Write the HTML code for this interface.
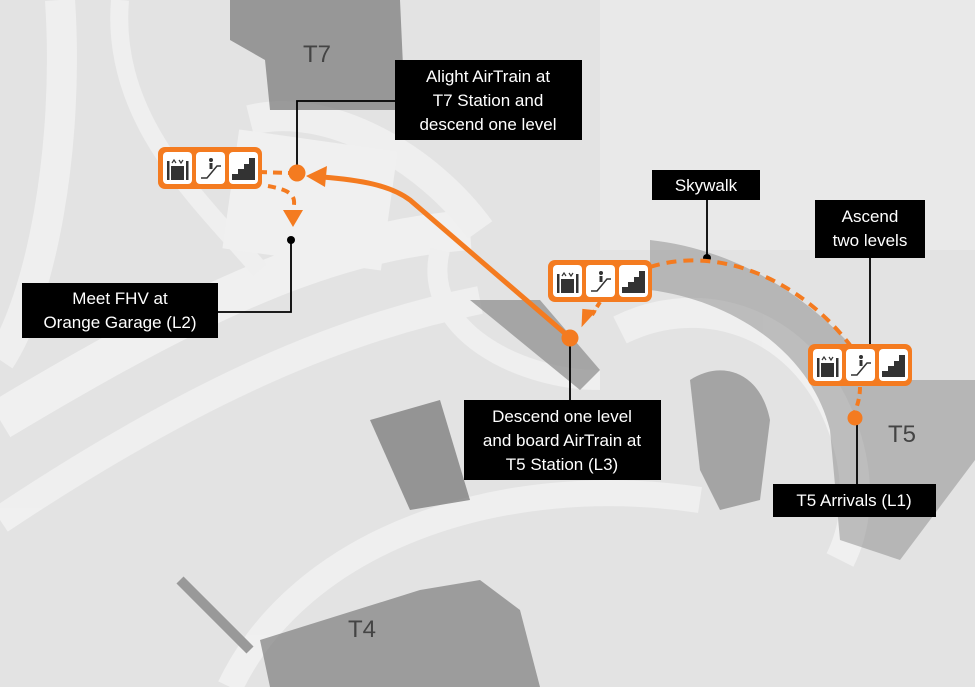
<!DOCTYPE html>
<html><head><meta charset="utf-8"><style>
html,body{margin:0;padding:0;width:975px;height:687px;overflow:hidden;background:#e2e2e2}
svg{display:block}
text{font-family:"Liberation Sans",sans-serif}
.lb{fill:#fff;font-size:17px;text-anchor:middle}
</style></head><body>
<svg width="975" height="687" viewBox="0 0 975 687" xmlns="http://www.w3.org/2000/svg">
<defs>
<g id="icons">
<rect x="0" y="0" width="104" height="42" rx="7" fill="#f47b20"/>
<rect x="5" y="5" width="29" height="32" rx="4" fill="#fff"/>
<rect x="38" y="5" width="29" height="32" rx="4" fill="#fff"/>
<rect x="71" y="5" width="29" height="32" rx="4" fill="#fff"/>
<g fill="#333"><rect x="9" y="14" width="2.5" height="19"/><rect x="28" y="14" width="2.5" height="19"/><rect x="13" y="19" width="13" height="14"/></g>
<path d="M14 16 l2 -3 l2 3 M21 13 l2 3 l2 -3" stroke="#333" stroke-width="1.2" fill="none"/>
<path d="M43 31 l6 0 l10 -12 l4 0" stroke="#333" stroke-width="1.5" fill="none"/>
<circle cx="53" cy="13" r="2" fill="#333"/><rect x="51.5" y="16" width="3" height="6" fill="#333"/>
<path d="M74 33 L74 27 L80 27 L80 22 L86 22 L86 17 L91 17 L91 11 L97 11 L97 33 Z" fill="#333"/>
</g>
</defs>
<rect width="975" height="687" fill="#e3e3e3"/>
<rect x="600" y="0" width="375" height="250" fill="#e9e9e9"/>
<g opacity="0.8">
<path d="M0 420 C200 300 330 240 470 230" stroke="#f4f4f4" stroke-width="40" fill="none"/>
<path d="M0 520 C180 400 330 330 480 300" stroke="#f2f2f2" stroke-width="28" fill="none"/>
<path d="M60 0 C70 150 40 300 0 360" stroke="#f3f3f3" stroke-width="30" fill="none"/>
<path d="M120 0 C110 120 200 200 260 270" stroke="#f2f2f2" stroke-width="18" fill="none"/>
<path d="M440 250 C420 330 520 380 600 380" stroke="#f2f2f2" stroke-width="20" fill="none"/>
<path d="M230 687 C300 540 500 470 700 500" stroke="#f3f3f3" stroke-width="26" fill="none"/>
<path d="M620 330 C700 290 800 320 840 420 C860 470 860 520 840 560" stroke="#f3f3f3" stroke-width="30" fill="none"/>
<path d="M250 120 C330 100 430 160 480 230" stroke="#f3f3f3" stroke-width="30" fill="none"/>
</g>
<rect x="230" y="140" width="160" height="120" fill="#f0f0f0" transform="rotate(8 310 200)"/>
<path d="M230 0 L400 0 L405 110 L270 110 L265 60 L230 40 Z" fill="#7d7d7d" opacity="0.75"/>
<path d="M470 300 L540 300 L600 370 L580 390 Z" fill="#8a8a8a" opacity="0.7"/>
<path d="M650 240 C740 250 820 300 880 380 L975 380 L975 460 L900 560 L840 540 L830 430 C810 350 730 300 650 290 Z" fill="#8a8a8a" opacity="0.5"/>
<path d="M690 380 C720 360 760 370 770 420 L760 500 L720 510 L700 470 Z" fill="#7a7a7a" opacity="0.6"/>
<path d="M370 420 L440 400 L470 500 L410 510 Z" fill="#7a7a7a" opacity="0.75"/>
<path d="M260 640 L420 590 L480 580 L520 610 L540 687 L270 687 Z" fill="#7d7d7d" opacity="0.7"/>
<path d="M180 580 L250 650" stroke="#999" stroke-width="10"/>
<text x="303" y="62" font-size="24" fill="#444">T7</text>
<text x="888" y="442" font-size="24" fill="#444">T5</text>
<text x="348" y="637" font-size="24" fill="#444">T4</text>

<g stroke="#000" stroke-width="1.8" fill="none">
<path d="M297 173 V101 H395"/>
<path d="M291 240 V312 H218"/>
<path d="M707 258 V200"/>
<path d="M870 258 V345"/>
<path d="M570 338 V400"/>
<path d="M857 420 V484"/>
</g>
<circle cx="291" cy="240" r="4" fill="#000"/>
<circle cx="707" cy="258" r="4" fill="#000"/>

<g stroke="#f47b20" fill="none" stroke-width="4">
<path d="M568 336 L410 200 C390 185 360 180 322 177" stroke-width="5"/>
<path d="M258 172 L290 173" stroke-dasharray="9 6"/>
<path d="M268 186 C290 190 295 195 294 205" stroke-dasharray="8 6"/>
<path d="M650 267 C720 245 800 280 850 345" stroke-dasharray="10 7"/>
<path d="M860 387 C860 400 856 408 855 412" stroke-dasharray="7 5"/>
<path d="M600 302 L592 315" stroke-dasharray="6 4"/>
</g>
<path d="M306 176 L327 166 L325 187 Z" fill="#f47b20"/>
<path d="M283 210 L303 210 L293 227 Z" fill="#f47b20"/>
<path d="M580 326 L598 312 L584 308 Z" fill="#f47b20" transform="rotate(-10 588 318)"/>
<circle cx="297" cy="173" r="8.5" fill="#f47b20"/>
<circle cx="570" cy="338" r="8.5" fill="#f47b20"/>
<circle cx="855" cy="418" r="7.5" fill="#f47b20"/>

<use href="#icons" x="158" y="147"/>
<use href="#icons" x="548" y="260"/>
<use href="#icons" x="808" y="344"/>

<rect x="395" y="60" width="187" height="80" fill="#000"/>
<text class="lb" x="488" y="82">Alight AirTrain at</text>
<text class="lb" x="488" y="106">T7 Station and</text>
<text class="lb" x="488" y="130">descend one level</text>

<rect x="652" y="170" width="108" height="30" fill="#000"/>
<text class="lb" x="706" y="191">Skywalk</text>

<rect x="815" y="200" width="110" height="58" fill="#000"/>
<text class="lb" x="870" y="222">Ascend</text>
<text class="lb" x="870" y="246">two levels</text>

<rect x="22" y="283" width="196" height="55" fill="#000"/>
<text class="lb" x="120" y="304">Meet FHV at</text>
<text class="lb" x="120" y="328">Orange Garage (L2)</text>

<rect x="464" y="400" width="197" height="80" fill="#000"/>
<text class="lb" x="562" y="422">Descend one level</text>
<text class="lb" x="562" y="446">and board AirTrain at</text>
<text class="lb" x="562" y="470">T5 Station (L3)</text>

<rect x="773" y="484" width="163" height="33" fill="#000"/>
<text class="lb" x="854" y="506">T5 Arrivals (L1)</text>
</svg>
</body></html>
